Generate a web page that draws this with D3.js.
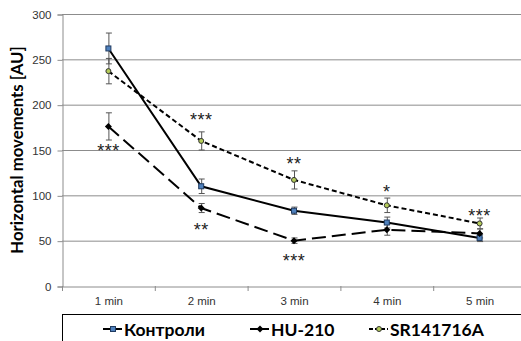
<!DOCTYPE html>
<html>
<head>
<meta charset="utf-8">
<script src="https://cdn.jsdelivr.net/npm/d3@7"></script>
<style>
  body { margin: 0; background: #fff; }
  svg { display: block; font-family: Lato, "Open Sans", sans-serif; }
  .tick text { fill: #333; font-size: 11.5px; }
</style>
</head>
<body>
<svg></svg>
<script>
const width = 521;
const height = 341;
const margin = { top: 14, right: -5, bottom: 55, left: 62 };

// categories and series
const categories = ["1 min", "2 min", "3 min", "4 min", "5 min"];
const yTicks = [0, 50, 100, 150, 200, 250, 300];

const kontroli = [262, 110, 83, 70, 53];
const kontroliErr = [17, 8, 4, 6, 4];
const hu210 = [176, 86, 50, 62, 58];
const hu210Err = [15, 5, 3, 6, 5];
const sr141716a = [237, 160, 117, 89, 69];
const sr141716aErr = [14, 10, 10, 8, 6];

// significance marks: category, text, vertical position in data units
const sigCats = ["1 min", "2 min", "2 min", "3 min", "3 min", "4 min", "5 min"];
const sigText = ["***", "***", "**", "**", "***", "*", "***"];
const sigY = [152, 186, 65, 138, 31, 107, 81];

const series = [
  { name: "Контроли", values: kontroli, err: kontroliErr, dash: null, marker: "square" },
  { name: "HU-210", values: hu210, err: hu210Err, dash: "14,6", marker: "diamond" },
  { name: "SR141716A", values: sr141716a, err: sr141716aErr, dash: "5,3", marker: "circle" }
];

const svg = d3.select("svg").attr("width", width).attr("height", height);

const x = d3.scaleBand()
  .domain(categories)
  .range([margin.left, width - margin.right]);

const y = d3.scaleLinear()
  .domain([0, 300])
  .range([height - margin.bottom, margin.top]);

// grid
svg.append("g")
  .selectAll("line")
  .data(yTicks.filter(d => d > 0))
  .join("line")
  .attr("x1", margin.left)
  .attr("x2", width)
  .attr("y1", d => y(d) + 0.5)
  .attr("y2", d => y(d) + 0.5)
  .attr("stroke", "#8c8c8c")
  .attr("stroke-width", 1);

// Y axis
const gy = svg.append("g")
  .attr("transform", `translate(${margin.left + 0.5}, 0.5)`)
  .call(d3.axisLeft(y).tickValues(yTicks).tickSize(5).tickPadding(6));
gy.select(".domain").attr("stroke", "#8c8c8c");
gy.selectAll(".tick line").attr("stroke", "#8c8c8c");

// X axis
const gx = svg.append("g")
  .attr("transform", `translate(0.5, ${y(0) + 0.5})`)
  .call(d3.axisBottom(x).tickSize(0).tickPadding(14));
gx.select(".domain").attr("stroke", "#8c8c8c");
gx.selectAll(".tick text").attr("dy", "0.35em");
svg.append("g")
  .selectAll("line")
  .data(categories)
  .join("line")
  .attr("x1", d => x(d) + 0.5)
  .attr("x2", d => x(d) + 0.5)
  .attr("y1", y(0))
  .attr("y2", y(0) + 5)
  .attr("stroke", "#8c8c8c");

// Y label
svg.append("text")
  .attr("transform", "rotate(-90)")
  .attr("x", -(y(0) + y(300)) / 2)
  .attr("y", 23)
  .attr("text-anchor", "middle")
  .attr("font-size", 16.8)
  .attr("font-weight", "bold")
  .attr("fill", "#000")
  .text("Horizontal movements [AU]");

const cx = c => x(c) + x.bandwidth() / 2;

// lines
series.forEach(s => {
  const line = d3.line()
    .x((d, i) => cx(categories[i]))
    .y(d => y(d));
  svg.append("path")
    .datum(s.values)
    .attr("d", line)
    .attr("fill", "none")
    .attr("stroke", "#000")
    .attr("stroke-width", 2)
    .attr("stroke-dasharray", s.dash);
});

// error bars
series.forEach(s => {
  const g = svg.append("g").attr("stroke", "#555").attr("stroke-width", 1);
  s.values.forEach((v, i) => {
    const px = cx(categories[i]) + 0.5;
    const top = y(v + s.err[i]);
    const bot = y(v - s.err[i]);
    g.append("line").attr("x1", px).attr("x2", px).attr("y1", top).attr("y2", bot);
    g.append("line").attr("x1", px - 3).attr("x2", px + 3).attr("y1", top).attr("y2", top);
    g.append("line").attr("x1", px - 3).attr("x2", px + 3).attr("y1", bot).attr("y2", bot);
  });
});

function drawMarker(g, type, px, py) {
  if (type === "square") {
    g.append("rect").attr("x", px - 2.5).attr("y", py - 2.5).attr("width", 5).attr("height", 5)
      .attr("fill", "#4f81bd").attr("stroke", "#1f3a60").attr("stroke-width", 1);
  } else if (type === "circle") {
    g.append("circle").attr("cx", px).attr("cy", py).attr("r", 2.5)
      .attr("fill", "#b5cc5a").attr("stroke", "#333").attr("stroke-width", 1);
  } else {
    g.append("path")
      .attr("d", `M${px},${py - 3.5}L${px + 3.5},${py}L${px},${py + 3.5}L${px - 3.5},${py}Z`)
      .attr("fill", "#000");
  }
}

// markers
series.forEach(s => {
  const g = svg.append("g");
  s.values.forEach((v, i) => drawMarker(g, s.marker, cx(categories[i]), y(v)));
});

// significance
svg.append("g")
  .selectAll("text")
  .data(sigText)
  .join("text")
  .attr("x", (d, i) => cx(sigCats[i]))
  .attr("y", (d, i) => y(sigY[i]) + 9)
  .attr("text-anchor", "middle")
  .attr("font-family", "Liberation Sans, sans-serif")
  .attr("font-size", 18)
  .attr("letter-spacing", 0.5)
  .attr("fill", "#222")
  .text(d => d);

// legend
const legendTop = 314;
svg.append("rect")
  .attr("x", margin.left + 0.5)
  .attr("y", legendTop + 0.5)
  .attr("width", width)
  .attr("height", 40)
  .attr("fill", "#fff")
  .attr("stroke", "#000")
  .attr("stroke-width", 1);

const legendX = [103, 250, 369];
const lg = svg.append("g");
series.forEach((s, i) => {
  const lx = legendX[i];
  const ly = 329;
  lg.append("line")
    .attr("x1", lx).attr("x2", lx + 19)
    .attr("y1", ly).attr("y2", ly)
    .attr("stroke", "#000").attr("stroke-width", 2)
    .attr("stroke-dasharray", s.dash ? (i === 1 ? "8,3" : "4,2") : null);
  drawMarker(lg, s.marker, lx + 10, ly);
  lg.append("text")
    .attr("x", lx + 21)
    .attr("y", ly + 6.5)
    .attr("font-size", 17.5)
    .attr("font-weight", "bold")
    .attr("fill", "#000")
    .text(s.name);
});
</script>
</body>
</html>
